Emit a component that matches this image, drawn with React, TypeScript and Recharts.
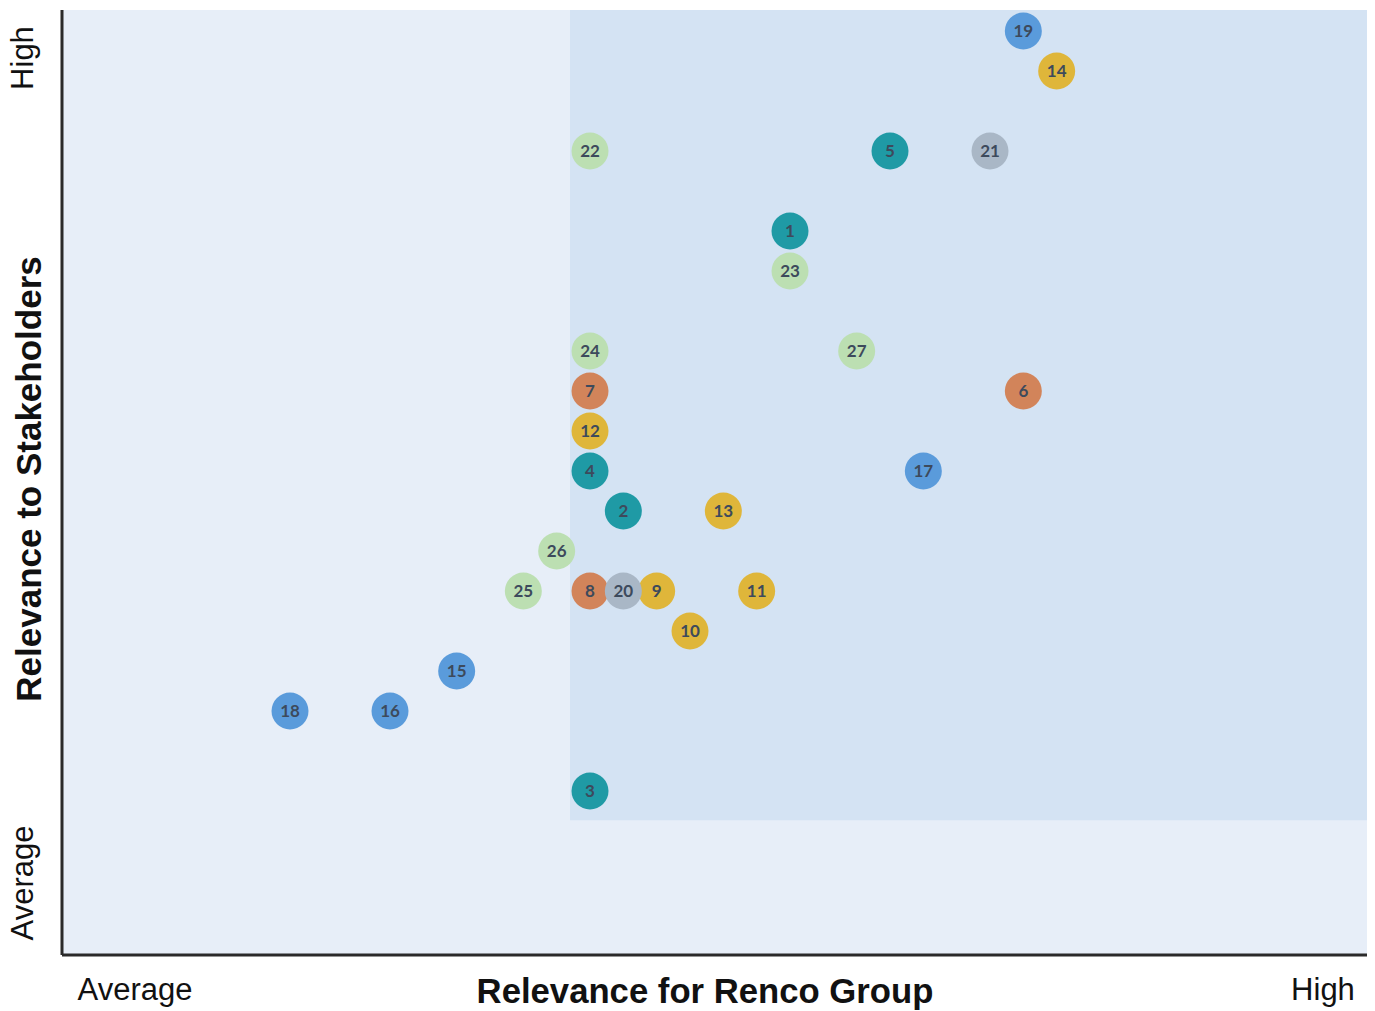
import React from "react";
import {
  ScatterChart,
  Scatter,
  XAxis,
  YAxis,
  ReferenceArea,
  Cell,
  Label,
} from "recharts";

// Materiality topics: id, position on both relevance scales, and topic group
const topicIds = [1, 2, 3, 4, 5, 6, 7, 8, 9, 10, 11, 12, 13, 14, 15, 16, 17, 18, 19, 20, 21, 22, 23, 24, 25, 26, 27];
const companyRelevance = [21, 16, 15, 15, 24, 28, 15, 15, 17, 18, 20, 15, 19, 29, 11, 9, 25, 6, 28, 16, 27, 15, 21, 15, 13, 14, 23];
const stakeholderRelevance = [18, 11, 4, 12, 20, 14, 14, 9, 9, 8, 9, 13, 11, 22, 7, 6, 12, 6, 23, 9, 20, 20, 17, 15, 9, 10, 15];
const topicGroups = [
  "teal", "teal", "teal", "teal", "teal",
  "orange", "orange", "orange",
  "yellow", "yellow", "yellow", "yellow", "yellow", "yellow",
  "blue", "blue", "blue", "blue", "blue",
  "grey", "grey",
  "green", "green", "green", "green", "green", "green",
];

const groupColors: Record<string, string> = {
  teal: "#1f9aa5",
  orange: "#d2845a",
  yellow: "#dfb63a",
  blue: "#5a9bdb",
  grey: "#a9b7c6",
  green: "#bcdfb2",
};

const xLabels = ["Average", "High"];
const yLabels = ["Average", "High"];
const xTitle = "Relevance for Renco Group";
const yTitle = "Relevance to Stakeholders";

const X_DOMAIN: [number, number] = [-0.84, 38.31];
const Y_DOMAIN: [number, number] = [-0.1, 23.525];

const points = topicIds.map((id, i) => ({
  id,
  x: companyRelevance[i],
  y: stakeholderRelevance[i],
  group: topicGroups[i],
}));

const Bubble = (props: any) => {
  const { cx, cy, fill, payload } = props;
  if (cx == null || cy == null) return null;
  return (
    <g>
      <circle cx={cx} cy={cy} r={18.5} fill={fill} />
      <text
        x={cx}
        y={cy}
        dy="0.36em"
        textAnchor="middle"
        fontFamily="Lato, 'Open Sans', sans-serif"
        fontWeight={700}
        fontSize={17}
        fill="#3d4a5c"
      >
        {payload.id}
      </text>
    </g>
  );
};

const XAxisText = (props: any) => {
  const { viewBox } = props;
  const { x, y, width } = viewBox;
  return (
    <g fontFamily="'Liberation Sans', Arial, sans-serif" fill="#111">
      <text x={x + 73} y={y + 45} textAnchor="middle" fontSize={31}>
        {xLabels[0]}
      </text>
      <text x={x + width - 44} y={y + 45} textAnchor="middle" fontSize={31}>
        {xLabels[1]}
      </text>
      <text x={x + 643} y={y + 48} textAnchor="middle" fontSize={34.7} fontWeight={700}>
        {xTitle}
      </text>
    </g>
  );
};

const YAxisText = (props: any) => {
  const { viewBox } = props;
  const { y, height } = viewBox;
  const lx = 33;
  const tx = 41;
  return (
    <g fontFamily="'Liberation Sans', Arial, sans-serif" fill="#111">
      <text
        x={lx}
        y={y + 48}
        transform={`rotate(-90 ${lx} ${y + 48})`}
        textAnchor="middle"
        fontSize={31}
      >
        {yLabels[1]}
      </text>
      <text
        x={lx}
        y={y + height - 72}
        transform={`rotate(-90 ${lx} ${y + height - 72})`}
        textAnchor="middle"
        fontSize={31}
      >
        {yLabels[0]}
      </text>
      <text
        x={tx}
        y={479}
        transform={`rotate(-90 ${tx} 479)`}
        textAnchor="middle"
        fontSize={35}
        fontWeight={700}
      >
        {yTitle}
      </text>
    </g>
  );
};

export default function App() {
  return (
    <div style={{ position: "absolute", left: 0, top: 0, background: "#fff" }}>
      <ScatterChart
        width={1375}
        height={1011}
        margin={{ top: 10, right: 8, bottom: 0, left: 2 }}
      >
        <ReferenceArea
          x1={X_DOMAIN[0]}
          x2={X_DOMAIN[1]}
          y1={Y_DOMAIN[0]}
          y2={Y_DOMAIN[1]}
          fill="#e7eef8"
          fillOpacity={1}
          stroke="none"
          ifOverflow="hidden"
        />
        <ReferenceArea
          x1={14.4}
          x2={X_DOMAIN[1]}
          y1={3.27}
          y2={Y_DOMAIN[1]}
          fill="#d4e3f3"
          fillOpacity={1}
          stroke="none"
          ifOverflow="hidden"
        />
        <XAxis
          type="number"
          dataKey="x"
          domain={X_DOMAIN}
          allowDataOverflow
          height={56}
          tick={false}
          tickLine={false}
          axisLine={{ stroke: "#2a2a2a", strokeWidth: 3 }}
        >
          <Label content={<XAxisText />} />
        </XAxis>
        <YAxis
          type="number"
          dataKey="y"
          domain={Y_DOMAIN}
          allowDataOverflow
          width={60}
          tick={false}
          tickLine={false}
          axisLine={{ stroke: "#2a2a2a", strokeWidth: 3 }}
        >
          <Label content={<YAxisText />} />
        </YAxis>
        <Scatter data={points} shape={<Bubble />} isAnimationActive={false}>
          {points.map((p) => (
            <Cell key={p.id} fill={groupColors[p.group]} />
          ))}
        </Scatter>
      </ScatterChart>
    </div>
  );
}
